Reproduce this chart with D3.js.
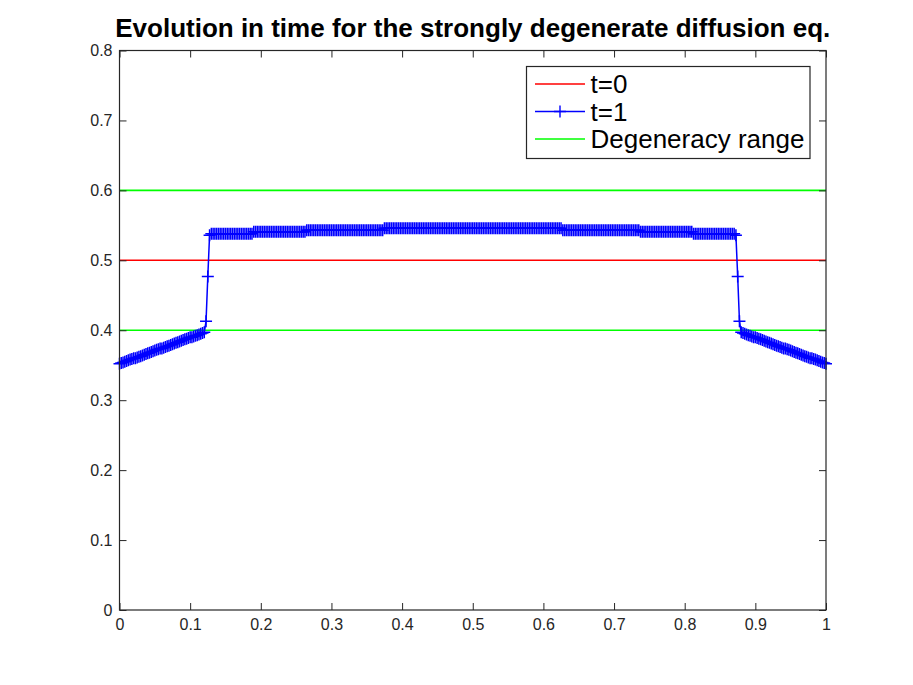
<!DOCTYPE html>
<html>
<head>
<meta charset="utf-8">
<script src="https://cdn.jsdelivr.net/npm/d3@7"></script>
<style>
  body { margin: 0; background: #fff; }
  text { font-family: "Liberation Sans", Arial, Helvetica, sans-serif; }
</style>
</head>
<body>
<svg id="fig" width="913" height="685"></svg>
<script>
// grid spacing of the t=1 solution (401 nodes on [0,1])
const xStep = 0.0025;

// t=1 solution, left to right
const leftSlope = [
  0.352,0.353,0.354,0.355,0.356,0.357,0.358,0.359,0.360,0.360,
  0.361,0.362,0.363,0.364,0.365,0.366,0.367,0.368,0.369,0.370,
  0.371,0.372,0.373,0.374,0.374,0.375,0.376,0.377,0.378,0.379,
  0.380,0.381,0.382,0.383,0.384,0.385,0.386,0.387,0.388,0.389,
  0.390,0.390,0.391,0.392,0.393,0.394,0.395,0.396,0.397
];
const leftJump = [0.413, 0.477, 0.536];
const plateau = [
  0.538,0.538,0.538,0.538,0.538,0.538,0.538,0.538,0.538,0.538,
  0.538,0.538,0.538,0.538,0.538,0.538,0.538,0.538,0.538,0.538,
  0.538,0.538,0.538,0.538,
  0.541,0.541,0.541,0.541,0.541,0.541,0.541,0.541,0.541,0.541,
  0.541,0.541,0.541,0.541,0.541,0.541,0.541,0.541,0.541,0.541,
  0.541,0.541,0.541,0.541,0.541,0.541,0.541,0.541,0.541,0.541,
  0.543,0.543,0.543,0.543,0.543,0.543,0.543,0.543,0.543,0.543,
  0.543,0.543,0.543,0.543,0.543,0.543,0.543,0.543,0.543,0.543,
  0.543,0.543,0.543,0.543,0.543,0.543,0.543,0.543,0.543,0.543,
  0.543,0.543,0.543,0.543,0.543,0.543,0.543,0.543,0.543,0.543,
  0.543,0.543,0.543,0.543,
  0.546,0.546,0.546,0.546,0.546,0.546,0.546,0.546,0.546,0.546,
  0.546,0.546,0.546,0.546,0.546,0.546,0.546,0.546,0.546,0.546,
  0.546,0.546,0.546,0.546,0.546,0.546,0.546,0.546,0.546,0.546,
  0.546,0.546,0.546,0.546,0.546,0.546,0.546,0.546,0.546,0.546,
  0.546,0.546,0.546,0.546,0.546,0.546,0.546,0.546,0.546,0.546,
  0.546,0.546,0.546,0.546,0.546,0.546,0.546,0.546,0.546,0.546,
  0.546,0.546,0.546,0.546,0.546,0.546,0.546,0.546,0.546,0.546,
  0.546,0.546,0.546,0.546,0.546,0.546,0.546,0.546,0.546,0.546,
  0.546,0.546,0.546,0.546,0.546,0.546,0.546,0.546,0.546,0.546,
  0.546,0.546,0.546,0.546,0.546,0.546,0.546,0.546,0.546,0.546,
  0.546,
  0.543,0.543,0.543,0.543,0.543,0.543,0.543,0.543,0.543,0.543,
  0.543,0.543,0.543,0.543,0.543,0.543,0.543,0.543,0.543,0.543,
  0.543,0.543,0.543,0.543,0.543,0.543,0.543,0.543,0.543,0.543,
  0.543,0.543,0.543,0.543,0.543,0.543,0.543,0.543,0.543,0.543,
  0.543,0.543,0.543,0.543,
  0.541,0.541,0.541,0.541,0.541,0.541,0.541,0.541,0.541,0.541,
  0.541,0.541,0.541,0.541,0.541,0.541,0.541,0.541,0.541,0.541,
  0.541,0.541,0.541,0.541,0.541,0.541,0.541,0.541,0.541,0.541,
  0.538,0.538,0.538,0.538,0.538,0.538,0.538,0.538,0.538,0.538,
  0.538,0.538,0.538,0.538,0.538,0.538,0.538,0.538,0.538,0.538,
  0.538,0.538,0.538,0.538
];
const rightJump = [0.536, 0.477, 0.413];
const rightSlope = [
  0.397,0.396,0.395,0.394,0.393,0.392,0.391,0.390,0.390,
  0.389,0.388,0.387,0.386,0.385,0.384,0.383,0.382,0.381,0.380,
  0.379,0.378,0.377,0.376,0.375,0.374,0.374,0.373,0.372,0.371,
  0.370,0.369,0.368,0.367,0.366,0.365,0.364,0.363,0.362,0.361,
  0.360,0.360,0.359,0.358,0.357,0.356,0.355,0.354,0.353,0.352
];

// t=0 initial state and degeneracy interval
const initialLevel = 0.5;
const degeneracyRange = [0.4, 0.6];

const xTicks = [0, 0.1, 0.2, 0.3, 0.4, 0.5, 0.6, 0.7, 0.8, 0.9, 1];
const yTicks = [0, 0.1, 0.2, 0.3, 0.4, 0.5, 0.6, 0.7, 0.8];
const legendLabels = ["t=0", "t=1", "Degeneracy range"];
const titleText = "Evolution in time for the strongly degenerate diffusion eq.";

const solution = leftSlope.concat(leftJump, plateau, rightJump, rightSlope)
  .map((v, i) => ({ x: i * xStep, y: v }));

const margin = { left: 119.5, top: 50.5 };
const width = 706.5;
const height = 559.5;
const axisColor = "#262626";

var svg = d3.select("#fig");

var chart = svg.append("g")
  .attr("transform", `translate(${margin.left}, ${margin.top})`);

var xScale = d3.scaleLinear().domain([0, 1]).range([0, width]);
var yScale = d3.scaleLinear().domain([0, 0.8]).range([height, 0]);

// title
svg.append("text")
  .attr("x", margin.left + width / 2)
  .attr("y", 37)
  .attr("text-anchor", "middle")
  .style("font-size", "26px")
  .style("font-weight", "bold")
  .style("fill", "#000")
  .text(titleText);

// horizontal reference lines
chart.append("line")
  .attr("x1", xScale(0)).attr("x2", xScale(1))
  .attr("y1", yScale(initialLevel)).attr("y2", yScale(initialLevel))
  .style("stroke", "#ff0000")
  .style("stroke-width", 1.4);

degeneracyRange.forEach(function (lvl) {
  chart.append("line")
    .attr("x1", xScale(0)).attr("x2", xScale(1))
    .attr("y1", yScale(lvl)).attr("y2", yScale(lvl))
    .style("stroke", "#00ff00")
    .style("stroke-width", 1.6);
});

// t=1 line with + markers
var line = d3.line()
  .x(d => xScale(d.x))
  .y(d => yScale(d.y));

chart.append("path")
  .attr("d", line(solution))
  .style("fill", "none")
  .style("stroke", "#0000ff")
  .style("stroke-width", 1.5);

const m = 6;
chart.append("g")
  .selectAll("path")
  .data(solution)
  .enter().append("path")
  .attr("d", d => {
    var cx = xScale(d.x), cy = yScale(d.y);
    return `M${cx - m},${cy}H${cx + m}M${cx},${cy - m}V${cy + m}`;
  })
  .style("fill", "none")
  .style("stroke", "#0000ff")
  .style("stroke-width", 1.5);

// axes, ticks pointing inwards on all four sides
function styleAxis(g) {
  g.select(".domain").remove();
  g.selectAll(".tick line").style("stroke", axisColor);
  g.selectAll(".tick text")
    .style("fill", axisColor)
    .style("font-size", "16px")
    .style("font-family", '"Liberation Sans", Arial, sans-serif');
}

chart.append("g")
  .attr("transform", `translate(0, ${height})`)
  .call(d3.axisBottom(xScale).tickValues(xTicks).tickSizeInner(-7).tickSizeOuter(0)
    .tickPadding(9).tickFormat(d => String(d)))
  .call(styleAxis);

chart.append("g")
  .call(d3.axisTop(xScale).tickValues(xTicks).tickSizeInner(-7).tickSizeOuter(0)
    .tickFormat(""))
  .call(styleAxis);

chart.append("g")
  .call(d3.axisLeft(yScale).tickValues(yTicks).tickSizeInner(-7).tickSizeOuter(0)
    .tickPadding(7).tickFormat(d => String(d)))
  .call(styleAxis);

chart.append("g")
  .attr("transform", `translate(${width}, 0)`)
  .call(d3.axisRight(yScale).tickValues(yTicks).tickSizeInner(-7).tickSizeOuter(0)
    .tickFormat(""))
  .call(styleAxis);

chart.append("rect")
  .attr("width", width)
  .attr("height", height)
  .style("fill", "none")
  .style("stroke", axisColor)
  .style("stroke-width", 1.2);

// legend
var legend = svg.append("g").attr("transform", "translate(526.5, 66.5)");
legend.append("rect")
  .attr("width", 283.5)
  .attr("height", 92)
  .style("fill", "#fff")
  .style("stroke", axisColor)
  .style("stroke-width", 1.2);

const legendColors = ["#ff0000", "#0000ff", "#00ff00"];
legendLabels.forEach(function (lab, i) {
  var cy = 17.5 + i * 27.5;
  legend.append("line")
    .attr("x1", 8.5).attr("x2", 58.5)
    .attr("y1", cy).attr("y2", cy)
    .style("stroke", legendColors[i])
    .style("stroke-width", 1.4);
  if (i === 1) {
    legend.append("path")
      .attr("d", `M${33.5 - m},${cy}H${33.5 + m}M33.5,${cy - m}V${cy + m}`)
      .style("stroke", "#0000ff")
      .style("stroke-width", 1.4);
  }
  legend.append("text")
    .attr("x", 64)
    .attr("y", cy + 9)
    .style("font-size", "26px")
    .style("fill", "#000")
    .text(lab);
});
</script>
</body>
</html>
